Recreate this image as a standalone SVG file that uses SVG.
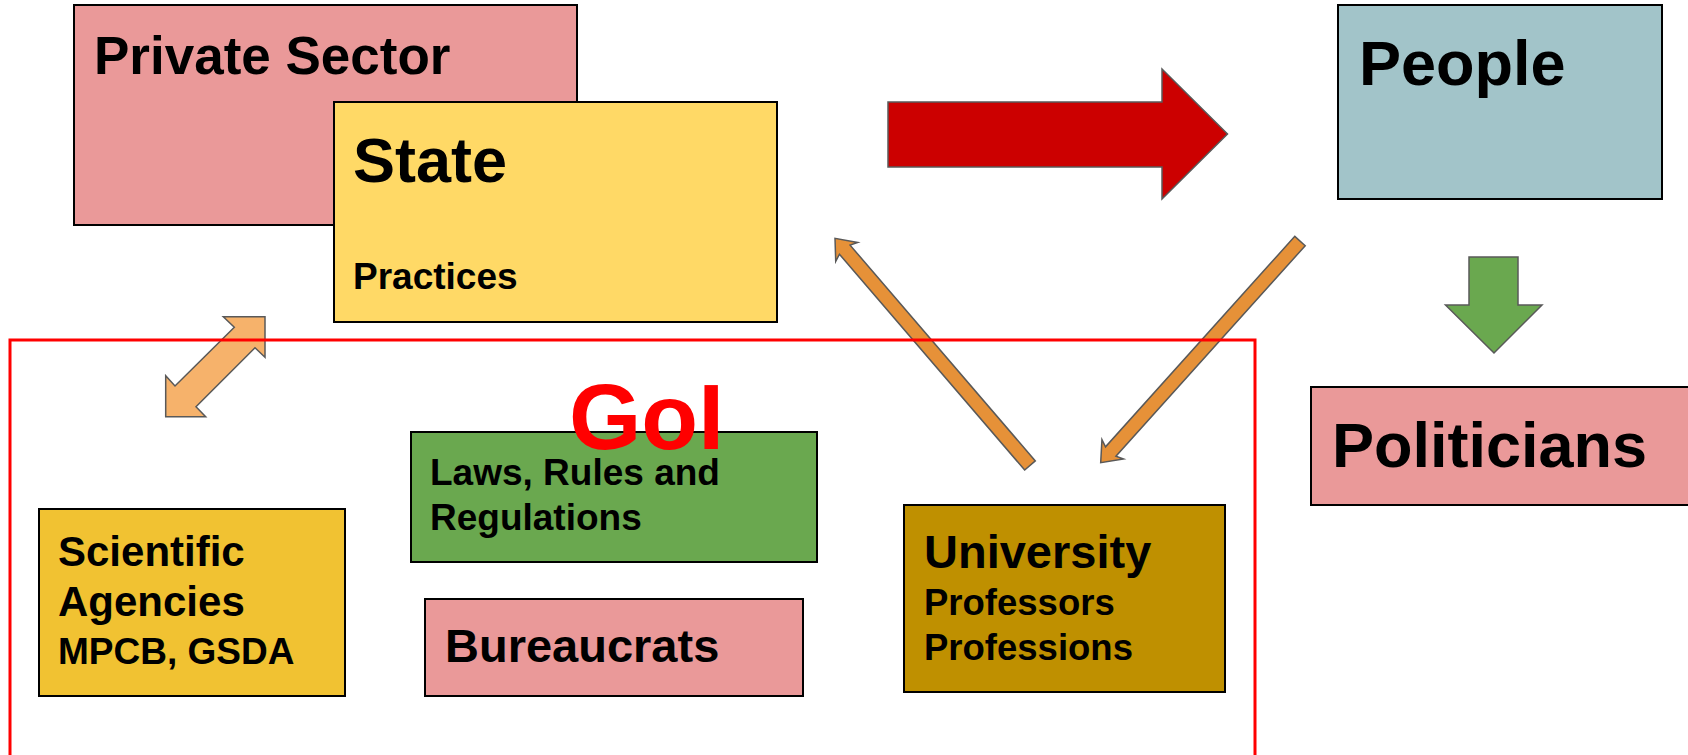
<svg xmlns="http://www.w3.org/2000/svg" width="1688" height="755" viewBox="0 0 1688 755">
<style>
.box{stroke:#000;stroke-width:2}
.t{font-family:"Liberation Sans",Arial,sans-serif;font-weight:bold;fill:#000}
.arr{stroke:#595959;stroke-width:1.5;stroke-linejoin:miter}
.oa{fill:#e69138}
</style>
<rect width="1688" height="755" fill="#fff"/>
<g id="private-sector">
<rect class="box" x="74" y="5" width="503" height="220" fill="#ea9999"/>
<text class="t" x="94" y="74" font-size="53">Private Sector</text>
</g>
<g id="state">
<rect class="box" x="334" y="102" width="443" height="220" fill="#ffd966"/>
<text class="t" x="353" y="182" font-size="63">State</text>
<text class="t" x="353" y="289" font-size="37">Practices</text>
</g>
<g id="people">
<rect class="box" x="1338" y="5" width="324" height="194" fill="#a2c4c9"/>
<text class="t" x="1359" y="85" font-size="63">People</text>
</g>
<g id="politicians">
<rect class="box" x="1311" y="387" width="390" height="118" fill="#ea9999"/>
<text class="t" x="1332" y="467" font-size="63">Politicians</text>
</g>
<g id="laws">
<rect class="box" x="411" y="432" width="406" height="130" fill="#6aa84f"/>
<text class="t" x="430" y="485" font-size="37">Laws, Rules and</text>
<text class="t" x="430" y="530" font-size="37">Regulations</text>
</g>
<g id="scientific-agencies">
<rect class="box" x="39" y="509" width="306" height="187" fill="#f1c232"/>
<text class="t" x="58" y="566" font-size="42">Scientific</text>
<text class="t" x="58" y="616" font-size="42">Agencies</text>
<text class="t" x="58" y="664" font-size="37">MPCB, GSDA</text>
</g>
<g id="bureaucrats">
<rect class="box" x="425" y="599" width="378" height="97" fill="#ea9999"/>
<text class="t" x="445" y="662" font-size="47">Bureaucrats</text>
</g>
<g id="university">
<rect class="box" x="904" y="505" width="321" height="187" fill="#bf9000"/>
<text class="t" x="924" y="568" font-size="47">University</text>
<text class="t" x="924" y="615" font-size="36.5">Professors</text>
<text class="t" x="924" y="660" font-size="36.5">Professions</text>
</g>
<g id="connectors">
<polygon class="arr" fill="#cc0000" points="888,102 1162,102 1162,69 1227.5,134 1162,199 1162,167 888,167"/>
<polygon class="arr" fill="#6aa84f" points="1469,257 1518,257 1518,305 1542,305 1494,353 1445.5,305 1469,305"/>
<polygon class="arr" fill="#f6b26b" points="265,316.7 265,357.3 255,347.7 196,406.7 205.7,416.7 165.7,416.7 165.7,375.7 175,386 234.3,327.3 223.3,316.7"/>
<g transform="translate(835,238.3) rotate(-130.64)">
<polygon class="arr oa" points="-299.4,-7 -15,-7 -18,-14.5 0,0 -18,14.5 -15,7 -299.4,7"/>
</g>
<g transform="translate(1100.7,462.7) rotate(131.96)">
<polygon class="arr oa" points="-298.1,-7 -15,-7 -18,-14.5 0,0 -18,14.5 -15,7 -298.1,7"/>
</g>
</g>
<g id="goi">
<rect x="10" y="340" width="1245" height="430" fill="none" stroke="#ff0000" stroke-width="3"/>
<text x="569" y="449" font-size="93" font-family="'Liberation Sans',Arial,sans-serif" font-weight="bold" fill="#ff0000">GoI</text>
</g>
</svg>
